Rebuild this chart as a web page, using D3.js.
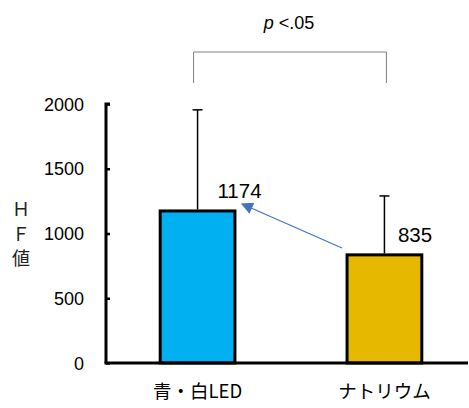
<!DOCTYPE html>
<html>
<head>
<meta charset="utf-8">
<script src="https://cdn.jsdelivr.net/npm/d3@7"></script>
<style>
  html, body { margin: 0; padding: 0; background: #fff; }
  svg { display: block; font-family: "Liberation Sans", Arial, "Noto Sans CJK JP", sans-serif; }
</style>
</head>
<body>
<svg id="chart" width="469" height="408"></svg>
<script>
// HF values by lighting type
const categories = ["青・白LED", "ナトリウム"];
const means = [1174, 835];
const errUpper = [1955, 1290];
const barColors = ["#00B0F0", "#E6B800"];
const yTicks = [0, 500, 1000, 1500, 2000];
const yLabelChars = ["Ｈ", "Ｆ", "値"];
const sigLabel = ".05";

const svg = d3.select("#chart");
const plotLeft = 106, plotRight = 468, plotTop = 104, plotBottom = 363;

const y = d3.scaleLinear().domain([0, 2000]).range([plotBottom, plotTop]);
const x = d3.scaleBand().domain(categories).range([plotLeft, plotLeft + 370])
  .paddingInner(0.6).paddingOuter(0.29);

// bars
svg.selectAll("rect.bar").data(categories).join("rect")
  .attr("class", "bar")
  .attr("x", d => x(d))
  .attr("width", x.bandwidth())
  .attr("y", (d, i) => y(means[i]))
  .attr("height", (d, i) => plotBottom - y(means[i]))
  .attr("fill", (d, i) => barColors[i])
  .attr("stroke", "#000")
  .attr("stroke-width", 3);

// error bars (upper only)
const cx = d => x(d) + x.bandwidth() / 2;
svg.selectAll("line.err").data(categories).join("line")
  .attr("class", "err")
  .attr("x1", cx).attr("x2", cx)
  .attr("y1", (d, i) => y(means[i]) - 1.5)
  .attr("y2", (d, i) => y(errUpper[i]))
  .attr("stroke", "#000").attr("stroke-width", 1.5);
svg.selectAll("line.cap").data(categories).join("line")
  .attr("class", "cap")
  .attr("x1", d => cx(d) - 5).attr("x2", d => cx(d) + 5)
  .attr("y1", (d, i) => y(errUpper[i]))
  .attr("y2", (d, i) => y(errUpper[i]))
  .attr("stroke", "#000").attr("stroke-width", 1.5);

// axes
const yAxis = d3.axisRight(y).tickValues(yTicks).tickSize(4).tickFormat("");
const gy = svg.append("g").attr("transform", `translate(${plotLeft},0)`).call(yAxis);
gy.select(".domain").attr("d", `M4,${plotTop}H0V${plotBottom}`).attr("stroke-width", 3);
gy.selectAll(".tick line").attr("stroke-width", 2.5);

svg.selectAll("text.ytick").data(yTicks).join("text")
  .attr("class", "ytick")
  .attr("x", 84).attr("y", d => y(d) + 6.5)
  .attr("text-anchor", "end")
  .attr("font-size", 18)
  .attr("fill", "#000")
  .text(d => d);

svg.append("line")
  .attr("x1", plotLeft - 1.5).attr("x2", plotRight)
  .attr("y1", plotBottom).attr("y2", plotBottom)
  .attr("stroke", "#000").attr("stroke-width", 3);

// category labels
svg.selectAll("text.cat").data(categories).join("text")
  .attr("class", "cat")
  .attr("x", cx).attr("y", 398)
  .attr("text-anchor", "middle")
  .attr("font-size", 18.5)
  .attr("font-family", "'Noto Sans CJK JP', sans-serif")
  .attr("fill", "#000")
  .text(d => d);

// y-axis title, stacked vertically
svg.selectAll("text.ytitle").data(yLabelChars).join("text")
  .attr("class", "ytitle")
  .attr("x", 21).attr("y", (d, i) => 216 + i * 24.5)
  .attr("text-anchor", "middle")
  .attr("font-size", 18)
  .attr("font-family", "'Noto Sans CJK JP', sans-serif")
  .attr("fill", "#222")
  .text(d => d);

// value labels
svg.append("text").attr("x", 239.5).attr("y", y(means[0]) - 13)
  .attr("text-anchor", "middle").attr("font-size", 20.5).attr("fill", "#000")
  .text(means[0]);
svg.append("text").attr("x", 415).attr("y", y(means[1]) - 13)
  .attr("text-anchor", "middle").attr("font-size", 20.5).attr("fill", "#000")
  .text(means[1]);

// arrow from sodium toward LED
svg.append("defs").append("marker")
  .attr("id", "arrowHead")
  .attr("viewBox", "0 0 10 10")
  .attr("refX", 9).attr("refY", 5)
  .attr("markerWidth", 15).attr("markerHeight", 12)
  .attr("markerUnits", "userSpaceOnUse")
  .attr("orient", "auto")
  .append("path").attr("d", "M0,0L10,5L0,10z").attr("fill", "#4472C4");
svg.append("line")
  .attr("x1", 342).attr("y1", 248)
  .attr("x2", 242).attr("y2", 204)
  .attr("stroke", "#4472C4").attr("stroke-width", 1.2)
  .attr("marker-end", "url(#arrowHead)");

// significance bracket
const bx1 = cx(categories[0]) - 4, bx2 = cx(categories[1]) + 2;
svg.append("path")
  .attr("d", `M${bx1},83V52H${bx2}V83`)
  .attr("fill", "none").attr("stroke", "#808080").attr("stroke-width", 1);
const sig = svg.append("text").attr("x", 289).attr("y", 29)
  .attr("text-anchor", "middle").attr("font-size", 18).attr("fill", "#000");
sig.append("tspan").attr("font-style", "italic").text("p");
sig.append("tspan").text(" <");
sig.append("tspan").text(sigLabel);
</script>
</body>
</html>
